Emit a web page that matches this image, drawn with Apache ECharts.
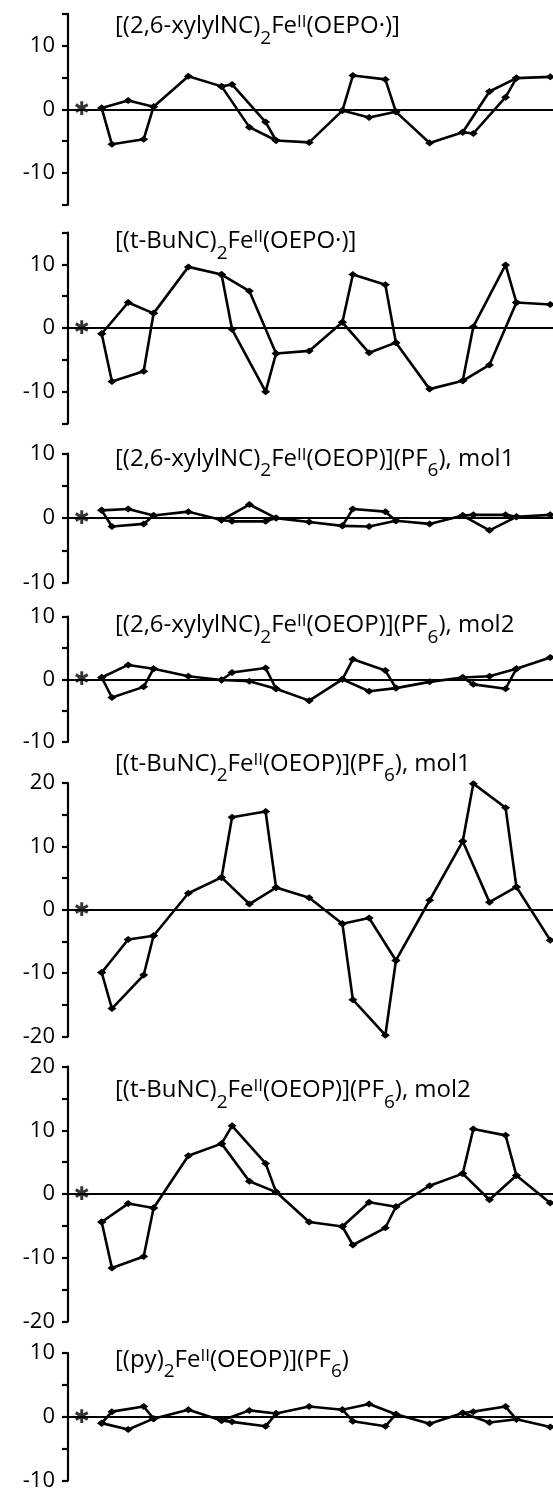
<!DOCTYPE html>
<html lang="en">
<head>
<meta charset="UTF-8">
<title>Core displacement plots</title>
<script src="https://cdn.jsdelivr.net/npm/echarts@6/dist/echarts.min.js"></script>
<style>
    html, body { margin: 0; padding: 0; background: #fff; }
    #main { width: 553px; height: 1489px; }
</style>
</head>
<body>
<div id="main"></div>
<script>
    // atom positions along the linear display: per pyrrole Ca, Cb, N, Cb, Ca, then meso
    var atomX = [0, 0.85, 2.2, 3.49, 4.31, 7.2,
                 9.96, 10.83, 12.27, 13.62, 14.49, 17.24,
                 20.0, 20.87, 22.22, 23.57, 24.45, 27.25,
                 30.0, 30.88, 32.22, 33.56, 34.46, 37.27];
    var starX = -1.63;

    // displacements (0.01 A), same atom order as atomX
    var dispXylylOEPO = [0.2, -5.5, 1.4, -4.7, 0.4, 5.2,
                         3.6, 3.9, -2.8, -2.0, -4.9, -5.2,
                         -0.2, 5.3, -1.3, 4.7, -0.4, -5.3,
                         -3.6, -3.8, 2.8, 1.9, 4.9, 5.1];
    var dispTBuOEPO = [-0.9, -8.4, 4.0, -6.8, 2.3, 9.6,
                       8.4, -0.2, 5.8, -10.0, -4.0, -3.6,
                       0.9, 8.4, -3.9, 6.8, -2.3, -9.6,
                       -8.3, 0.2, -5.8, 9.9, 4.0, 3.7];
    var dispXylylMol1 = [1.2, -1.3, 1.4, -0.9, 0.4, 1.0,
                         -0.3, -0.5, 2.1, -0.5, 0.0, -0.6,
                         -1.2, 1.4, -1.3, 1.0, -0.4, -0.9,
                         0.4, 0.5, -1.9, 0.5, 0.2, 0.5];
    var dispXylylMol2 = [0.3, -2.9, 2.3, -1.2, 1.7, 0.5,
                         -0.1, 1.1, -0.3, 1.8, -1.5, -3.4,
                         0.0, 3.2, -1.9, 1.4, -1.4, -0.4,
                         0.3, -0.8, 0.5, -1.5, 1.7, 3.5];
    var dispTBuMol1 = [-9.9, -15.6, -4.7, -10.3, -4.1, 2.6,
                       5.1, 14.6, 0.9, 15.5, 3.5, 1.9,
                       -2.2, -14.2, -1.3, -19.8, -8.0, 1.5,
                       10.8, 19.9, 1.2, 16.1, 3.6, -4.8];
    var dispTBuMol2 = [-4.4, -11.6, -1.5, -9.8, -2.2, 6.0,
                       7.9, 10.7, 2.0, 4.8, 0.3, -4.4,
                       -5.1, -8.0, -1.3, -5.3, -2.0, 1.3,
                       3.2, 10.2, -0.9, 9.2, 2.9, -1.4];
    var dispPy = [-1.0, 0.8, -2.0, 1.6, -0.3, 1.1,
                  -0.6, -0.8, 1.0, -1.5, 0.5, 1.6,
                  1.1, -0.7, 2.0, -1.5, 0.4, -1.1,
                  0.6, 0.8, -0.9, 1.6, -0.4, -1.6];

    var yRanges = [15, 15, 10, 10, 20, 20, 10];

    var titles = [
        '[(2,6-xylylNC){s|2}Fe{p|II}(OEPO·)]',
        '[(t-BuNC){s|2}Fe{p|II}(OEPO·)]',
        '[(2,6-xylylNC){s|2}Fe{p|II}(OEOP)](PF{s|6}), mol1',
        '[(2,6-xylylNC){s|2}Fe{p|II}(OEOP)](PF{s|6}), mol2',
        '[(t-BuNC){s|2}Fe{p|II}(OEOP)](PF{s|6}), mol1',
        '[(t-BuNC){s|2}Fe{p|II}(OEOP)](PF{s|6}), mol2',
        '[(py){s|2}Fe{p|II}(OEOP)](PF{s|6})'
    ];

    var panels = [dispXylylOEPO, dispTBuOEPO, dispXylylMol1, dispXylylMol2, dispTBuMol1, dispTBuMol2, dispPy];

    // layout: grid top / bottom in px, title top
    var layout = [
        {top: 13.8, bottom: 204.8, title: 12},
        {top: 232.5, bottom: 423.5, title: 227},
        {top: 453.5, bottom: 582.7, title: 444.5},
        {top: 616.7, bottom: 742, title: 611},
        {top: 783, bottom: 1036.5, title: 749.5},
        {top: 1066.5, bottom: 1321.5, title: 1076},
        {top: 1353, bottom: 1480.5, title: 1345.5}
    ];

    var font = 'Open Sans';
    var grids = [], xAxes = [], yAxes = [], series = [], titleList = [];

    panels.forEach(function (vals, i) {
        var L = layout[i];
        grids.push({left: 68, right: 0, top: L.top, height: L.bottom - L.top,
                    containLabel: false, outerBoundsMode: 'none'});
        xAxes.push({
            type: 'value', gridIndex: i, min: -2.8, max: 37.5,
            axisLine: {show: true, onZero: true, lineStyle: {color: '#000', width: 2}},
            axisTick: {show: false}, axisLabel: {show: false}, splitLine: {show: false}
        });
        yAxes.push({
            type: 'value', gridIndex: i, min: -yRanges[i], max: yRanges[i], interval: 5,
            axisLine: {show: true, onZero: false, lineStyle: {color: '#000', width: 2.2}},
            axisTick: {show: true, inside: false, length: 6, lineStyle: {color: '#000', width: 2.2}},
            axisLabel: {
                margin: 13, color: '#000', fontFamily: font, fontSize: 22,
                formatter: function (v) { return v % 10 === 0 ? String(v) : ''; }
            },
            splitLine: {show: false}
        });

        // outer chain: Ca-Cb-Cb-Ca-meso ...
        var chain = [];
        for (var r = 0; r < 4; r++) {
            [0, 1, 3, 4, 5].forEach(function (k) {
                var j = r * 6 + k;
                chain.push([atomX[j], vals[j]]);
            });
        }
        var common = {
            type: 'line', xAxisIndex: i, yAxisIndex: i, silent: true,
            symbol: 'diamond', symbolSize: [9, 7], showSymbol: true,
            lineStyle: {color: '#000', width: 2.6}, itemStyle: {color: '#000'},
            animation: false
        };
        series.push(Object.assign({}, common, {data: chain}));
        // Ca-N-Ca bonds
        for (var r2 = 0; r2 < 4; r2++) {
            var b = r2 * 6;
            series.push(Object.assign({}, common, {
                data: [[atomX[b], vals[b]], [atomX[b + 2], vals[b + 2]], [atomX[b + 4], vals[b + 4]]]
            }));
        }
        series.push({
            type: 'scatter', xAxisIndex: i, yAxisIndex: i, silent: true, animation: false,
            data: [[starX, 0]], symbolSize: 1, itemStyle: {color: 'rgba(0,0,0,0)'},
            label: {
                show: true, position: 'inside', formatter: '\u2731', color: '#000',
                fontFamily: 'DejaVu Sans', fontWeight: 'bold', fontSize: 19, offset: [0, 1]
            }
        });

        titleList.push({
            text: titles[i], left: 115, top: L.title, padding: 0,
            textStyle: {
                fontFamily: font, fontSize: 24, fontWeight: 'normal', color: '#000', lineHeight: 29,
                rich: {
                    s: {fontFamily: font, fontSize: 19, lineHeight: 21, color: '#000', padding: [24, 0, 0, 0]},
                    p: {fontFamily: font, fontSize: 17, lineHeight: 19, color: '#000', padding: [0, 0, 8, 0]}
                }
            }
        });
    });

    var chart = echarts.init(document.getElementById('main'));
    chart.setOption({
        animation: false,
        backgroundColor: '#fff',
        title: titleList,
        grid: grids,
        xAxis: xAxes,
        yAxis: yAxes,
        series: series
    });
</script>
</body>
</html>
